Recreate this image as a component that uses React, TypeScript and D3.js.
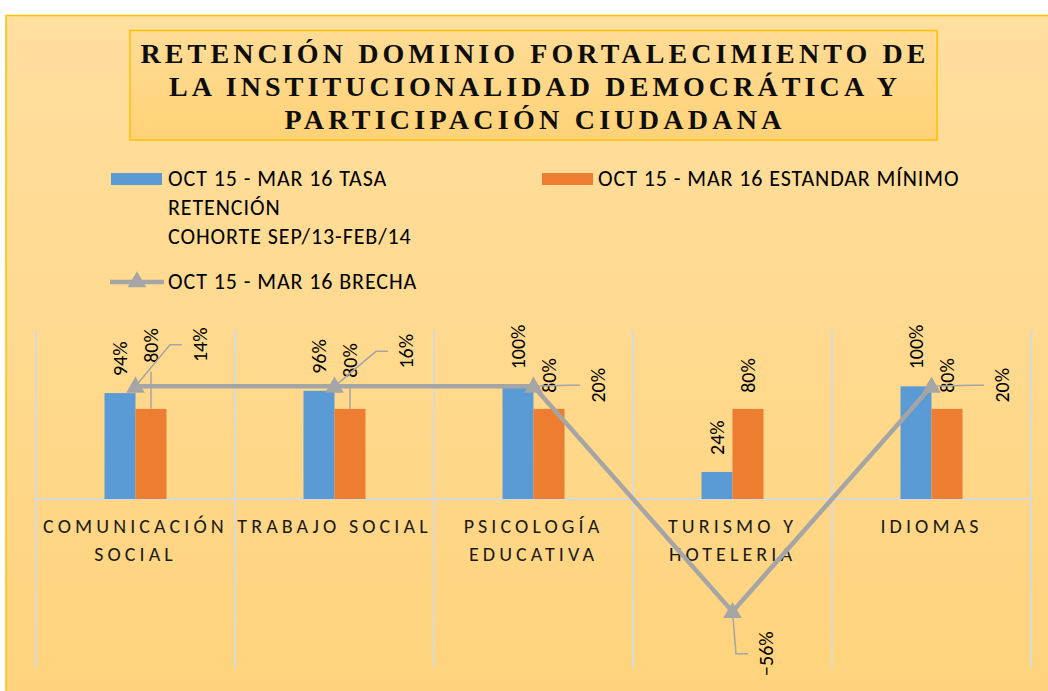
import React from "react";
import * as d3 from "d3";

// ---- data ----
const categories = [
  "COMUNICACIÓN\nSOCIAL",
  "TRABAJO SOCIAL",
  "PSICOLOGÍA\nEDUCATIVA",
  "TURISMO Y\nHOTELERIA",
  "IDIOMAS",
];
const tasaRetencion = [0.94, 0.96, 1.0, 0.24, 1.0];
const estandarMinimo = [0.8, 0.8, 0.8, 0.8, 0.8];
// gap values shown in the labels
const brecha = [0.14, 0.16, 0.2, -0.56, 0.2];
// where the gap markers sit on the chart's axis
const brechaPlotted = [1, 1, 1, -1, 1];
const titleLines = [
  "RETENCIÓN DOMINIO FORTALECIMIENTO DE",
  "LA INSTITUCIONALIDAD DEMOCRÁTICA Y",
  "PARTICIPACIÓN CIUDADANA",
];
const legendTasa = ["OCT 15 - MAR 16 TASA", "RETENCIÓN", "COHORTE SEP/13-FEB/14"];
const legendEstandar = "OCT 15 - MAR 16 ESTANDAR MÍNIMO";
const legendBrecha = "OCT 15 - MAR 16 BRECHA";
const yDomain = [-1.5, 1.5];

// ---- layout (label nudges, as moved in the original) ----
const estandarLabelLift = [30, 15, 0, 0, 0];
const brechaLabelOffset: [number, number][] = [
  [64.5, -41.5],
  [71.5, -35],
  [64.5, -1],
  [33.5, 42],
  [70.5, -1],
];
const titleWidths = [785, 728, 497];

const BLUE = "#5B9BD5";
const ORANGE = "#ED7D31";
const GRAY = "#A5A5A5";
const GRID = "#D9D9D9";
const FONT = "Carlito, Lato, 'Open Sans', sans-serif";

export default function App() {
  const W = 1048;
  const H = 691;
  const x = d3.scaleBand<string>().domain(categories).range([36, 1031]).padding(0);
  const y = d3.scaleLinear().domain(yDomain).range([668, 330]);
  const barW = 31;
  const sub = d3.scaleBand<string>().domain(["tasa", "estandar"]).range([0, barW * 2]);
  const cx = (i: number) => (x(categories[i]) as number) + x.bandwidth() / 2;
  const pct = d3.format(".0%");

  const lineGen = d3
    .line<number>()
    .x((_, i) => cx(i))
    .y((d) => y(d));

  const tri = d3.symbol().type(d3.symbolTriangle).size(150);

  return (
    <svg
      width={W}
      height={H}
      style={{ position: "absolute", left: 0, top: 0, background: "#fff" }}
    >
      <defs>
        <linearGradient id="bg" x1="0" y1="0" x2="0" y2="1">
          <stop offset="0" stopColor="#FFDF9F" />
          <stop offset="1" stopColor="#FFD37C" />
        </linearGradient>
        <linearGradient id="tb" x1="0" y1="0" x2="0" y2="1">
          <stop offset="0" stopColor="#FFDC96" />
          <stop offset="1" stopColor="#FFD277" />
        </linearGradient>
      </defs>
      <rect x={6} y={15.5} width={1060} height={700} fill="url(#bg)" stroke="#FFC000" strokeWidth={1.5} />

      {/* title */}
      <rect x={130} y={30.5} width={807} height={109.5} fill="url(#tb)" stroke="#FFC000" strokeWidth={1.5} />
      {titleLines.map((t, i) => (
        <text
          key={i}
          x={533}
          y={63 + i * 33}
          textAnchor="middle"
          fontFamily="'Liberation Serif', 'Times New Roman', serif"
          fontWeight="bold"
          fontSize={28}
          fill="#0D0D0D"
          textLength={titleWidths[i]}
          lengthAdjust="spacing"
        >
          {t}
        </text>
      ))}

      {/* legend */}
      <g fontFamily={FONT} fontSize={22} fill="#000" letterSpacing={0.9}>
        <rect x={111} y={173} width={51} height={12} fill={BLUE} />
        {legendTasa.map((t, i) => (
          <text key={i} x={168} y={186 + i * 29}>
            {t}
          </text>
        ))}
        <rect x={542} y={173} width={51} height={12} fill={ORANGE} />
        <text x={598} y={186}>
          {legendEstandar}
        </text>
        <line x1={110} x2={164} y1={282} y2={282} stroke={GRAY} strokeWidth={4.5} />
        <path d={tri() as string} transform="translate(137,282)" fill={GRAY} />
        <text x={168} y={289}>
          {legendBrecha}
        </text>
      </g>

      {/* grid */}
      {d3.range(categories.length + 1).map((i) => {
        const gx = 36 + i * x.bandwidth();
        return <line key={i} x1={gx} x2={gx} y1={y(yDomain[1])} y2={y(yDomain[0])} stroke={GRID} strokeWidth={2} />;
      })}
      <line x1={36} x2={1031} y1={y(0)} y2={y(0)} stroke={GRID} strokeWidth={2} />

      {/* bars */}
      {categories.map((c, i) => {
        const x0 = cx(i) - barW;
        return (
          <g key={c}>
            <rect x={x0 + (sub("tasa") as number)} y={y(tasaRetencion[i])} width={sub.bandwidth()} height={y(0) - y(tasaRetencion[i])} fill={BLUE} />
            <rect x={x0 + (sub("estandar") as number)} y={y(estandarMinimo[i])} width={sub.bandwidth()} height={y(0) - y(estandarMinimo[i])} fill={ORANGE} />
          </g>
        );
      })}

      {/* category labels */}
      <g fontFamily={FONT} fontSize={20} fill="#1A1A1A" letterSpacing={4.1} textAnchor="middle">
        {categories.map((c, i) =>
          c.split("\n").map((ln, j) => (
            <text key={c + j} x={cx(i)} y={533 + j * 28}>
              {ln}
            </text>
          ))
        )}
      </g>

      {/* bar data labels */}
      <g fontFamily={FONT} fontSize={20} fill="#000">
        {categories.map((c, i) => {
          const bx = cx(i) - barW + (sub("tasa") as number) + sub.bandwidth() / 2;
          const by = y(tasaRetencion[i]) - 17;
          return (
            <text key={"t" + i} transform={`translate(${bx},${by}) rotate(-90)`} dominantBaseline="central">
              {pct(tasaRetencion[i])}
            </text>
          );
        })}
        {categories.map((c, i) => {
          const ox = cx(i) - barW + (sub("estandar") as number) + sub.bandwidth() / 2;
          const top = y(estandarMinimo[i]);
          const by = top - 16 - estandarLabelLift[i];
          return (
            <g key={"e" + i}>
              {estandarLabelLift[i] > 0 && (
                <line x1={ox} x2={ox} y1={by + 9} y2={top} stroke={GRAY} strokeWidth={1.5} />
              )}
              <text transform={`translate(${ox},${by}) rotate(-90)`} dominantBaseline="central">
                {pct(estandarMinimo[i])}
              </text>
            </g>
          );
        })}
      </g>

      {/* brecha line */}
      {brechaPlotted.map((v, i) => {
        const px = cx(i);
        const py = y(v);
        const lx = px + brechaLabelOffset[i][0];
        const ly = py + brechaLabelOffset[i][1];
        const pts: [number, number][] = [
          [lx - 18, ly],
          [lx - 30, ly],
          [px, py],
        ];
        return <path key={"l" + i} d={d3.line()(pts) as string} fill="none" stroke={GRAY} strokeWidth={1.5} />;
      })}
      <path d={lineGen(brechaPlotted) as string} fill="none" stroke={GRAY} strokeWidth={4.5} />
      {brechaPlotted.map((v, i) => (
        <path key={"m" + i} d={tri() as string} transform={`translate(${cx(i)},${y(v) + 1})`} fill={GRAY} />
      ))}
      <g fontFamily={FONT} fontSize={20} fill="#000">
        {brechaPlotted.map((v, i) => {
          const lx = cx(i) + brechaLabelOffset[i][0];
          const ly = y(v) + brechaLabelOffset[i][1];
          return (
            <text key={"bl" + i} transform={`translate(${lx},${ly}) rotate(-90)`} textAnchor="middle" dominantBaseline="central">
              {pct(brecha[i])}
            </text>
          );
        })}
      </g>
    </svg>
  );
}
